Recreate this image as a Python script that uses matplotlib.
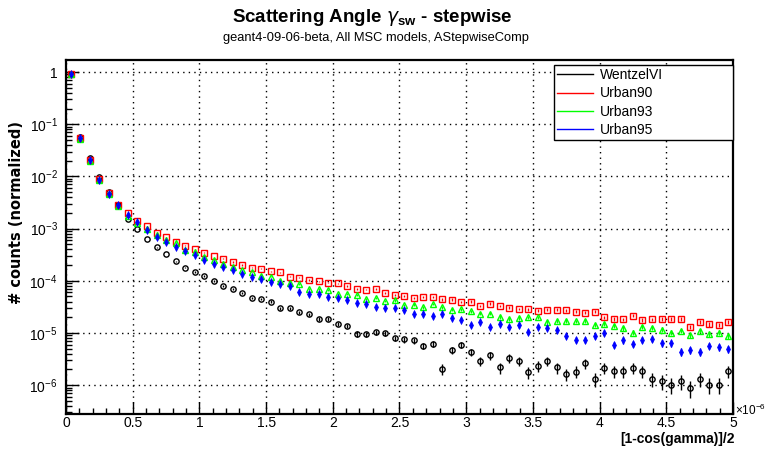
import numpy as np
import matplotlib
matplotlib.use("Agg")
import matplotlib.pyplot as plt
from matplotlib.ticker import FixedLocator, FuncFormatter, NullFormatter

plt.rcParams['font.family'] = ['Liberation Sans', 'DejaVu Sans']
plt.rcParams['mathtext.fontset'] = 'custom'
plt.rcParams['mathtext.rm'] = 'Liberation Sans'
plt.rcParams['mathtext.bf'] = 'Liberation Sans:bold'

# histogram: 70 bins over [0, 5e-6]
n_bins = 70
x_max = 5e-6
count_unit = 1.2e-7   # normalised weight of one entry (sets the error bars)

wentzel = [0.91, 0.056, 0.0225, 0.00986, 0.0051, 0.00283, 0.00153, 0.00098, 6.3e-4, 4.38e-4,
           3.26e-4, 2.39e-4, 1.78e-4, 1.47e-4, 1.24e-4, 9.8e-5, 8.0e-5, 7.0e-5, 5.77e-5, 4.68e-5,
           4.42e-5, 4.0e-5, 2.98e-5, 2.98e-5, 2.49e-5, 2.28e-5, 1.87e-5, 1.85e-5, 1.47e-5, 1.36e-5,
           9.6e-6, 9.55e-6, 1.03e-5, 9.86e-6, 7.95e-6, 7.5e-6, 7.18e-6, 5.69e-6, 6.15e-6, 2.03e-6,
           4.72e-6, 5.97e-6, 4.29e-6, 2.91e-6, 3.7e-6, 2.18e-6, 3.27e-6, 2.91e-6, 1.75e-6, 2.35e-6,
           2.91e-6, 2.18e-6, 1.62e-6, 1.82e-6, 2.63e-6, 1.33e-6, 2.16e-6, 1.85e-6, 1.85e-6, 2.16e-6,
           1.87e-6, 1.33e-6, 1.18e-6, 1.02e-6, 1.18e-6, 8.95e-7, 1.32e-6, 1.02e-6, 1.02e-6, 1.87e-6]

urban90 = [0.92, 0.0551, 0.0206, 0.0089, 0.00474, 0.00279, 0.00196, 0.00142, 0.0011, 8.34e-4,
           6.76e-4, 5.54e-4, 4.7e-4, 4.01e-4, 3.45e-4, 2.98e-4, 2.62e-4, 2.29e-4, 2.01e-4, 1.78e-4,
           1.71e-4, 1.52e-4, 1.46e-4, 1.2e-4, 1.15e-4, 1.04e-4, 9.7e-5, 9.2e-5, 8.9e-5, 8.0e-5,
           7.0e-5, 6.8e-5, 7.0e-5, 5.9e-5, 5.4e-5, 5.2e-5, 4.65e-5, 4.95e-5, 4.9e-5, 4.4e-5,
           4.35e-5, 3.9e-5, 4.0e-5, 3.3e-5, 3.65e-5, 3.3e-5, 3.04e-5, 2.88e-5, 2.85e-5, 2.68e-5,
           2.78e-5, 2.78e-5, 2.73e-5, 2.56e-5, 2.45e-5, 2.55e-5, 2.0e-5, 1.88e-5, 1.82e-5, 2.14e-5,
           1.75e-5, 1.83e-5, 1.88e-5, 1.88e-5, 1.88e-5, 1.31e-5, 1.63e-5, 1.46e-5, 1.44e-5, 1.61e-5]

urban93 = [0.9, 0.0532, 0.0197, 0.0085, 0.00454, 0.00271, 0.00177, 0.00126, 0.00097, 7.64e-4,
           6.05e-4, 5.37e-4, 3.89e-4, 3.61e-4, 2.88e-4, 2.5e-4, 2.12e-4, 1.86e-4, 1.59e-4, 1.49e-4,
           1.22e-4, 1.2e-4, 1.0e-4, 9.0e-5, 8.6e-5, 7.06e-5, 7.0e-5, 6.6e-5, 5.6e-5, 5.6e-5,
           5.35e-5, 4.5e-5, 4.75e-5, 4.1e-5, 4.2e-5, 3.44e-5, 3.47e-5, 3.08e-5, 3.6e-5, 3.08e-5,
           2.78e-5, 2.82e-5, 2.6e-5, 2.33e-5, 2.34e-5, 2.04e-5, 1.84e-5, 1.96e-5, 1.98e-5, 1.98e-5,
           1.64e-5, 1.67e-5, 1.73e-5, 1.66e-5, 1.7e-5, 1.42e-5, 1.49e-5, 1.36e-5, 1.23e-5, 1.01e-5,
           1.29e-5, 1.24e-5, 1.16e-5, 1.01e-5, 1.1e-5, 8.95e-6, 1.1e-5, 9.45e-6, 1.01e-5, 8.8e-6]

urban95 = [0.9, 0.0544, 0.0202, 0.0087, 0.0047, 0.00277, 0.00185, 0.00132, 0.00096, 7.0e-4,
           5.54e-4, 4.5e-4, 3.67e-4, 3.12e-4, 2.45e-4, 2.08e-4, 1.86e-4, 1.59e-4, 1.34e-4, 1.17e-4,
           1.07e-4, 9.3e-5, 8.6e-5, 7.9e-5, 5.97e-5, 5.7e-5, 5.66e-5, 4.85e-5, 4.58e-5, 4.23e-5,
           3.72e-5, 3.64e-5, 3.08e-5, 3.01e-5, 2.97e-5, 2.7e-5, 2.34e-5, 2.26e-5, 2.16e-5, 2.36e-5,
           1.95e-5, 1.8e-5, 1.42e-5, 1.61e-5, 1.3e-5, 1.49e-5, 1.32e-5, 1.4e-5, 1.06e-5, 1.32e-5,
           1.26e-5, 1.13e-5, 8.9e-6, 7.35e-6, 7.35e-6, 8.7e-6, 1.01e-5, 5.94e-6, 7.2e-6, 6.15e-6,
           7.4e-6, 7.57e-6, 6.35e-6, 6.35e-6, 4.38e-6, 4.68e-6, 4.38e-6, 5.71e-6, 5.27e-6, 4.9e-6]

labels = ["WentzelVI", "Urban90", "Urban93", "Urban95"]
colors = ["black", "#ff0000", "#00ff00", "#0000ff"]
y_decades = [-6, -5, -4, -3, -2, -1, 0]

edges = np.linspace(0, x_max, n_bins + 1)
centers = 0.5 * (edges[:-1] + edges[1:])

fig = plt.figure(figsize=(7.65, 4.49), dpi=100)
ax = fig.add_axes([66 / 765, 1 - 414 / 449, 667 / 765, 354 / 449])

styles = [dict(marker="o", ms=3.8, mfc="none", mew=1.0),
          dict(marker="s", ms=4.2, mfc="none", mew=1.0),
          dict(marker="^", ms=4.6, mfc="none", mew=1.0),
          dict(marker="d", ms=3.6, mfc="#0000ff", mew=0.5)]

for vals, col, st in zip([wentzel, urban90, urban93, urban95], colors, styles):
    v = np.array(vals)
    err = np.sqrt(v * count_unit)
    ax.errorbar(centers, v, yerr=err, fmt="none", ecolor=col, elinewidth=1.0, capsize=0, zorder=3)
    ax.plot(centers, v, ls="none", color=col, mec=col, zorder=4, **st)

# legend uses plain lines, like the ROOT legend
handles = [plt.Line2D([], [], color=c, lw=1) for c in colors]
leg = ax.legend(handles, labels, loc="upper left", bbox_to_anchor=(0.732, 0.78, 0.268, 0.206),
                mode="expand", borderaxespad=0, fontsize=10, handlelength=2.6, handletextpad=0.45,
                labelspacing=0.32, borderpad=0.22, fancybox=False, framealpha=1, edgecolor="black")
leg.get_frame().set_linewidth(1.0)
leg.set_zorder(10)

ax.set_yscale("log")
ax.set_xlim(0, x_max)
ax.set_ylim(2.8e-7, 1.7)

ax.xaxis.set_major_locator(FixedLocator(np.arange(0, 5.01, 0.5) * 1e-6))
ax.xaxis.set_minor_locator(FixedLocator(np.arange(0, 5.01, 0.1) * 1e-6))
ax.xaxis.set_major_formatter(FuncFormatter(lambda x, p: "%g" % round(x * 1e6, 2)))

majors = [10.0 ** d for d in y_decades]
minors = [m * 10.0 ** d for d in [-7] + y_decades for m in range(2, 10)]
minors = [m for m in minors if 2.8e-7 <= m <= 1.7]
ax.yaxis.set_major_locator(FixedLocator(majors))
ax.yaxis.set_minor_locator(FixedLocator(minors))
ax.yaxis.set_minor_formatter(NullFormatter())
ax.yaxis.set_major_formatter(FuncFormatter(
    lambda y, p: "1" if abs(np.log10(y)) < 0.01 else r"$10^{%d}$" % round(np.log10(y))))

ax.tick_params(which="both", direction="in", top=False, right=False, labelsize=10, width=1)
ax.tick_params(which="major", length=9)
ax.tick_params(which="minor", length=4.5)
ax.tick_params(axis="x", which="major", pad=1.5)
ax.tick_params(axis="y", which="major", pad=6)
ax.grid(True, which="major", color="black", ls=(0, (1, 3)), lw=1.0)
for s in ax.spines.values():
    s.set_linewidth(1.6)

fig.text(735 / 765, 1 - 410 / 449, "\u00d710$^{-6}$", fontsize=8.5, ha="left", va="center")
fig.text(735 / 765, 1 - 439 / 449, "[1-cos(gamma)]/2", fontsize=10, fontweight="bold",
         ha="right", va="center")
fig.text(17 / 765, 1 - 212 / 449, "# counts (normalized)", fontsize=10.5, fontweight="bold",
         family="DejaVu Sans", rotation=90, ha="center", va="center")
fig.text(372 / 765, 1 - 17 / 449, r"Scattering Angle $\gamma_{\mathbf{sw}}$ - stepwise",
         fontsize=13.5, fontweight="bold", ha="center", va="center")
fig.text(376 / 765, 1 - 38 / 449, "geant4-09-06-beta, All MSC models, AStepwiseComp",
         fontsize=9.3, ha="center", va="center")

fig.savefig("out.png", dpi=100)
